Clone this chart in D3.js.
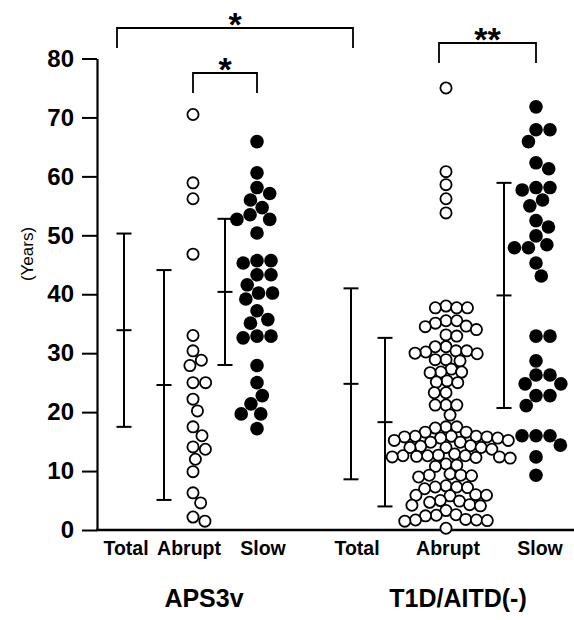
<!DOCTYPE html>
<html>
<head>
<meta charset="utf-8">
<script src="https://cdn.jsdelivr.net/npm/d3@7"></script>
<style>
  body { margin: 0; background: #fff; }
  text { font-family: "Liberation Sans", Arial, sans-serif; }
</style>
</head>
<body>
<div id="chart"></div>
<script>
// columns of the plot
const columns = ["APS3v Total", "APS3v Abrupt", "APS3v Slow", "T1D Total", "T1D Abrupt", "T1D Slow"];
const subLabels = ["Total", "Abrupt", "Slow", "Total", "Abrupt", "Slow"];
const groups = ["APS3v", "T1D/AITD(-)"];

// mean and SD
const means = [33.9, 24.6, 40.4, 24.8, 18.3, 39.8];
const sds = [16.4, 19.5, 12.4, 16.2, 14.3, 19.1];

// individual ages (years)
const aps3vAbrupt = [70.5, 58.9, 56.2, 46.8, 33.0, 30.4, 28.8, 27.9, 25.0, 25.0, 22.2,
  20.2, 17.5, 16.0, 14.1, 13.7, 12.0, 9.9, 6.3, 4.6, 2.2, 1.5];
const aps3vSlow = [65.9, 60.6, 58.1, 57.1, 56.0, 54.7, 53.5, 52.7, 52.7, 50.4, 45.7, 45.7,
  45.3, 43.3, 43.3, 41.6, 40.2, 40.2, 39.2, 37.2, 35.7, 35.1, 32.9, 32.9, 32.6, 27.9, 25.0,
  22.8, 21.4, 19.7, 19.7, 17.2];
const t1dAbrupt = [75.0, 60.8, 58.6, 56.2, 53.8,
  38.0, 37.7, 37.7, 37.7,
  35.5, 35.5, 35.1, 34.6, 34.5, 34.0, 33.1, 32.9,
  31.1, 31.1, 30.4, 30.4, 30.2, 30.0, 29.9,
  28.9, 28.9, 28.7, 27.3,
  26.8, 26.8, 26.7,
  25.3, 25.1, 25.0,
  23.3, 23.3,
  21.2, 21.2, 21.2,
  19.5,
  17.5, 17.5, 17.3, 16.6, 16.6,
  15.9, 15.9, 15.9, 15.8, 15.8, 15.6, 15.6, 15.2, 15.2, 14.9, 14.9,
  14.3, 14.2, 14.0, 14.0, 14.0, 13.7,
  12.9, 12.7, 12.6, 12.6, 12.6, 12.5, 12.4, 12.4, 12.3, 12.2,
  11.2, 11.0, 10.8,
  9.5, 9.3, 9.3, 9.2, 9.0,
  7.5, 7.3, 7.3, 7.2, 7.0,
  6.0, 5.9, 5.9, 5.8, 5.0, 4.9, 4.7,
  4.3, 4.2, 4.1, 3.3, 2.5,
  2.6, 2.4, 1.8, 1.7, 1.7, 1.6, 1.5,
  0.3];
const t1dSlow = [71.8, 67.9, 67.9, 65.9, 62.3, 61.3, 58.1, 58.1, 57.7, 56.0, 55.0, 52.5,
  51.4, 49.9, 48.4, 47.9, 47.9, 45.3, 43.1, 32.9, 32.9, 28.7, 26.3, 26.3, 24.8, 24.8,
  22.8, 22.8, 21.1, 16.0, 16.0, 16.0, 14.4, 12.4, 9.3];

const yTicks = [0, 10, 20, 30, 40, 50, 60, 70, 80];

// significance comparisons
const comparisons = [
  ["APS3v Total", "T1D Total", "*"],
  ["APS3v Abrupt", "APS3v Slow", "*"],
  ["T1D Abrupt", "T1D Slow", "**"]
];

const width = 574;
const height = 620;

const svg = d3.select("#chart")
  .append("svg")
  .attr("width", width)
  .attr("height", height);

const y = d3.scaleLinear().domain([0, 80]).range([530, 58.5]);

// x positions per column (dot centre, error bar, label)
const xDots = d3.scaleOrdinal().domain(columns).range([117, 193, 257, 353, 446, 536]);
const xBar = d3.scaleOrdinal().domain(columns).range([124, 164, 225, 351, 385, 504]);
const xLabel = d3.scaleOrdinal().domain(columns).range([126, 189, 263, 357, 448, 540]);
const xGroup = d3.scaleOrdinal().domain(groups).range([204, 458]);
const bracketX = d3.scaleOrdinal().domain(columns).range([117, 193, 257, 353, 439, 536]);

// y axis
const yAxis = svg.append("g")
  .attr("transform", "translate(97,0)")
  .call(d3.axisLeft(y).tickValues(yTicks).tickSize(15).tickSizeOuter(0).tickPadding(8));
yAxis.select(".domain").attr("stroke-width", 2.2);
yAxis.selectAll(".tick line").attr("stroke-width", 2);
yAxis.selectAll(".tick text")
  .style("font-size", "24px")
  .style("font-weight", "bold")
  .attr("fill", "#000");

// baseline
svg.append("line")
  .attr("x1", 96).attr("x2", width)
  .attr("y1", y(0)).attr("y2", y(0))
  .attr("stroke", "#000")
  .attr("stroke-width", 2.6);

svg.append("text")
  .attr("transform", `translate(27,${254}) rotate(-90)`)
  .attr("text-anchor", "middle")
  .attr("dominant-baseline", "central")
  .style("font-size", "17px")
  .text("(Years)");

// error bars (mean ± SD)
const bars = svg.selectAll(".ebar")
  .data(columns.map((c, i) => ({ col: c, mean: means[i], sd: sds[i] })))
  .enter()
  .append("g")
  .attr("class", "ebar")
  .attr("stroke", "#000")
  .attr("stroke-width", 2);
bars.append("line")
  .attr("x1", d => xBar(d.col)).attr("x2", d => xBar(d.col))
  .attr("y1", d => y(d.mean + d.sd)).attr("y2", d => y(d.mean - d.sd));
[d => d.mean + d.sd, d => d.mean, d => d.mean - d.sd].forEach(f => {
  bars.append("line")
    .attr("x1", d => xBar(d.col) - 7.5).attr("x2", d => xBar(d.col) + 7.5)
    .attr("y1", d => y(f(d))).attr("y2", d => y(f(d)));
});

// simple beeswarm: place each point as close to the column centre as possible
function swarm(values, D) {
  const pts = values.map(v => ({ v: v, py: y(v) })).sort((a, b) => b.v - a.v);
  const placed = [];
  pts.forEach(p => {
    const cands = [0];
    placed.forEach(q => {
      const dy = Math.abs(q.py - p.py);
      if (dy < D) {
        const dx = Math.sqrt(D * D - dy * dy);
        cands.push(q.dx - dx, q.dx + dx);
      }
    });
    cands.sort((a, b) => Math.abs(a) - Math.abs(b) || b - a);
    p.dx = cands.find(c => placed.every(q => (q.dx - c) ** 2 + (q.py - p.py) ** 2 >= D * D - 0.01));
    placed.push(p);
  });
  return placed;
}

const dotSets = [
  { col: "APS3v Abrupt", values: aps3vAbrupt, filled: false, gap: 12.6 },
  { col: "APS3v Slow", values: aps3vSlow, filled: true, gap: 14 },
  { col: "T1D Abrupt", values: t1dAbrupt, filled: false, gap: 10.8 },
  { col: "T1D Slow", values: t1dSlow, filled: true, gap: 14 }
];

dotSets.forEach(set => {
  const pts = swarm(set.values, set.gap);
  svg.append("g")
    .selectAll("circle")
    .data(pts)
    .enter()
    .append("circle")
    .attr("cx", d => xDots(set.col) + d.dx)
    .attr("cy", d => d.py)
    .attr("r", set.filled ? 6.8 : 5.6)
    .attr("fill", set.filled ? "#000" : "#fff")
    .attr("stroke", "#000")
    .attr("stroke-width", set.filled ? 0 : 1.8);
});

// column labels
svg.selectAll(".sub")
  .data(columns)
  .enter()
  .append("text")
  .attr("class", "sub")
  .attr("x", d => xLabel(d))
  .attr("y", 555)
  .attr("text-anchor", "middle")
  .style("font-size", "19.5px")
  .style("font-weight", "bold")
  .text((d, i) => subLabels[i]);

svg.selectAll(".grp")
  .data(groups)
  .enter()
  .append("text")
  .attr("class", "grp")
  .attr("x", d => xGroup(d))
  .attr("y", 607)
  .attr("text-anchor", "middle")
  .style("font-size", "25px")
  .style("font-weight", "bold")
  .text(d => d);

// significance brackets
const bracketTop = [28, 73, 43];
comparisons.forEach((c, i) => {
  const x1 = bracketX(c[0]), x2 = bracketX(c[1]), top = bracketTop[i];
  svg.append("path")
    .attr("d", `M${x1},${top + 20}V${top}H${x2}V${top + 20}`)
    .attr("fill", "none")
    .attr("stroke", "#000")
    .attr("stroke-width", 1.8);
  svg.append("text")
    .attr("x", (x1 + x2) / 2)
    .attr("y", top + 8)
    .attr("text-anchor", "middle")
    .style("font-size", "34px")
    .style("font-weight", "bold")
    .text(c[2]);
});
</script>
</body>
</html>
